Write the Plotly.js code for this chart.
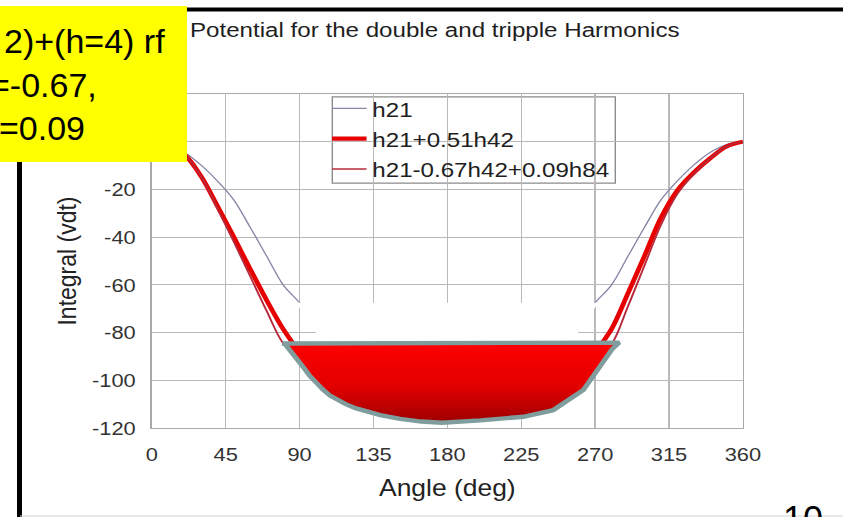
<!DOCTYPE html>
<html><head><meta charset="utf-8">
<script src="https://cdn.plot.ly/plotly-3.0.1.min.js"></script>
<style>
html,body{margin:0;padding:0;overflow:hidden;background:#fff;width:843px;height:517px;}
#chart{position:absolute;left:0;top:0;transform:scaleX(1.15);transform-origin:0 0;}
#slide{position:absolute;left:0;top:0;pointer-events:none;}
</style></head><body>
<div id="chart"></div><div id="slide"></div>
<script>
// ---- data (angle in degrees, integral in vdt) ----
const angles = [0,10,20,30,40,50,60,70,80,90,100,110,120,130,140,150,160,170,180,
                190,200,210,220,230,240,250,260,270,280,290,300,310,320,330,340,350,360];
const h21 = [0,-1.2,-4.5,-9.8,-16.5,-24.5,-36,-48,-60,-67.5,-76,-84,-92,-99,-104,-108,-111,-112.5,-113,
             -112.5,-111,-108,-104,-99,-92,-84,-76,-67.5,-60,-48,-36,-24.5,-16.5,-9.8,-4.5,-1.2,0];
const h21_051h42 = [0,-1.5,-5.5,-14.5,-27,-40,-53.5,-66.5,-78.5,-88,-95,-100,-103,-105,-106,-106.5,-107,-107,-107,
                    -107,-107,-106.5,-106,-105,-103,-100,-95,-88,-78.5,-63.5,-48,-32,-20.5,-13,-7,-2,0];
const h21_067h42_009h84 = [0,-1.5,-5.5,-14.5,-28,-42,-56.5,-71,-84.5,-91,-97,-101,-104,-106,-107.5,-108,-108.5,-108.5,-108.5,
                    -108.5,-108.5,-108,-107.5,-106,-104,-101,-97,-92,-85,-69,-52,-35,-22,-13.5,-7,-2,0];
const seriesNames = ['h21','h21+0.51h42','h21-0.67h42+0.09h84'];
const xTicks = [0,45,90,135,180,225,270,315,360];
const yTicks = [-120,-100,-80,-60,-40,-20,0,20];
const yTickText = ['-120','-100','-80','-60','-40','-20','0','20'];

// overlay drawn on the slide (bucket + white mask)
const bucketAngle = [79.5,284.7,280.4,277.2,262.8,244.5,226.3,200.2,176.7,164.1,151.3,139.1,130.6,124.5,118.4,113.4,108.5,104.2,100.4,95.9,92.3,88.6,84.9,81.2,79.5];
const bucketValue = [-84.6,-84.2,-86.9,-90.1,-104.1,-112.5,-115.3,-116.8,-117.8,-117.3,-116.2,-114.6,-113.2,-111.8,-110.1,-108.1,-106.4,-103.9,-101.4,-97.9,-94.5,-91.3,-88.0,-84.9,-84.6];
const maskAngle = [88.0,271.9,253.3,106.0,88.0];
const maskValue = [-67.5,-67.5,-86.5,-86.5,-67.5];

// ---- geometry ----
const S = 1.15;               // the chart picture is stretched horizontally
const TW = 843, TH = 517;
const PL = 151.5, PR = 742.6, PT = 93.75, PB = 428;
const fx = px => (px - PL) / (PR - PL);
const fy = py => (PB - py) / (PB - PT);
const FONT = 'Liberation Sans, Arial, Helvetica, sans-serif';

const traces = [
  {x: angles, y: h21, name: seriesNames[0], type:'scatter', mode:'lines',
   line:{color:'#8585a8', width:1.2, shape:'spline', smoothing:1}},
  {x: angles, y: h21_051h42, name: seriesNames[1], type:'scatter', mode:'lines',
   line:{color:'#e60000', width:4.2, shape:'spline', smoothing:1}},
  {x: angles, y: h21_067h42_009h84, name: seriesNames[2], type:'scatter', mode:'lines',
   line:{color:'#b8283a', width:1.7, shape:'spline', smoothing:1}},
  {x: maskAngle, y: maskValue, type:'scatter', mode:'none', fill:'toself',
   fillcolor:'#ffffff', showlegend:false, hoverinfo:'skip'},
  {x: bucketAngle, y: bucketValue, type:'scatter', mode:'lines', fill:'toself',
   line:{color:'#809d9d', width:4.4},
   fillgradient:{type:'vertical', colorscale:[[0,'#9c0000'],[0.45,'#e20000'],[1,'#ff0000']]},
   showlegend:false, hoverinfo:'skip'}
];

const axisCommon = {
  showgrid:true, gridcolor:'#b9b9b9', gridwidth:1.1, zeroline:false,
  showline:true, linecolor:'#a9a9a9', linewidth:1.2, mirror:true,
  ticks:'', tickfont:{size:19, color:'#333333', family:FONT}
};

const layout = {
  width: TW / S, height: TH,
  margin:{l: PL / S, r: (TW - PR) / S, t: PT, b: TH - PB, pad:0},
  paper_bgcolor:'#ffffff', plot_bgcolor:'#ffffff',
  font:{family:FONT, color:'#222222'},
  hovermode:false,
  title:{text:'Potential for the double and tripple Harmonics',
         font:{size:21, color:'#1e1e1e', family:FONT},
         xref:'container', yref:'container', x:190/TW, xanchor:'left',
         y:1 - 30/TH, yanchor:'middle'},
  xaxis: Object.assign({}, axisCommon, {
    range:[0,360], tickvals:xTicks, ticklabelstandoff:9,
    title:{text:'Angle (deg)', font:{size:23, color:'#222222', family:FONT}, standoff:16}
  }),
  yaxis: Object.assign({}, axisCommon, {
    range:[-120,20], tickvals:yTicks, ticktext:yTickText, ticklabelstandoff:9,
    title:{text:'Integral (vdt)', font:{size:23, color:'#222222', family:FONT}, standoff:6}
  }),
  showlegend:true,
  legend:{x: fx(326), y: fy(88), xanchor:'left', yanchor:'top',
          bgcolor:'rgba(0,0,0,0)', borderwidth:0,
          font:{size:21, color:'#1e1e1e', family:FONT}, tracegroupgap:0},
  shapes:[
    {type:'rect', xref:'paper', yref:'paper', layer:'between',
     x0: fx(332), x1: fx(615), y0: fy(183), y1: fy(96.7),
     fillcolor:'#ffffff', line:{color:'#8c8c8c', width:1.2}}
  ]
};

Plotly.newPlot('chart', traces, layout, {staticPlot:true, displayModeBar:false});

// ---- slide decorations (not stretched) ----
const sx = px => px / TW;
const sy = py => 1 - py / TH;
const slideLayout = {
  width: TW, height: TH, margin:{l:0, r:0, t:0, b:0, pad:0},
  paper_bgcolor:'rgba(0,0,0,0)', plot_bgcolor:'rgba(0,0,0,0)',
  xaxis:{visible:false, range:[0,1]}, yaxis:{visible:false, range:[0,1]},
  showlegend:false, hovermode:false,
  font:{family:FONT, color:'#000000'},
  shapes:[
    {type:'line', xref:'paper', yref:'paper', x0:0, x1:1, y0:sy(9.5), y1:sy(9.5),
     line:{color:'#000000', width:4}},
    {type:'line', xref:'paper', yref:'paper', x0:sx(19.5), x1:sx(19.5), y0:0, y1:sy(150),
     line:{color:'#000000', width:5}},
    {type:'line', xref:'paper', yref:'paper', x0:sx(20), x1:1, y0:sy(516), y1:sy(516),
     line:{color:'#d4d4d4', width:1}},
    {type:'rect', xref:'paper', yref:'paper', x0:-0.02, x1:sx(187), y0:sy(162), y1:sy(6),
     fillcolor:'#ffff00', line:{width:0}}
  ],
  annotations:[
    {text:'2)+(h=4) rf', xref:'paper', yref:'paper', x:sx(167), y:sy(41),
     xanchor:'right', yanchor:'middle', showarrow:false, font:{size:34, color:'#000'}},
    {text:'=-0.67,', xref:'paper', yref:'paper', x:sx(99), y:sy(85),
     xanchor:'right', yanchor:'middle', showarrow:false, font:{size:34, color:'#000'}},
    {text:'=0.09', xref:'paper', yref:'paper', x:sx(87), y:sy(128),
     xanchor:'right', yanchor:'middle', showarrow:false, font:{size:34, color:'#000'}},
    {text:'10', xref:'paper', yref:'paper', x:sx(803), y:sy(519),
     xanchor:'center', yanchor:'middle', showarrow:false, font:{size:36, color:'#000'}}
  ]
};
Plotly.newPlot('slide', [], slideLayout, {staticPlot:true, displayModeBar:false});
</script></body></html>
